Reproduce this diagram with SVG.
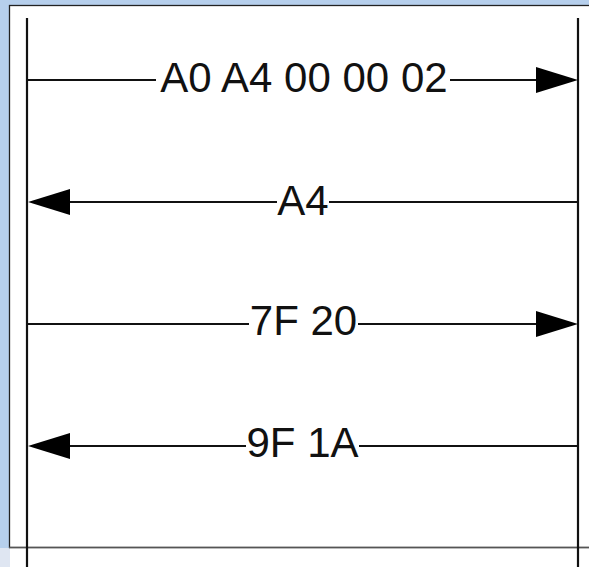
<svg xmlns="http://www.w3.org/2000/svg" width="589" height="567" viewBox="0 0 589 567">
<style>
.life{stroke:#111;stroke-width:2.2;fill:none}
.msg{stroke:#111;stroke-width:2;fill:none}
.head{fill:#000}
.lbl{font-family:"Liberation Sans",Arial,Helvetica,sans-serif;font-size:42px;fill:#111;text-anchor:middle}
</style>
<rect x="0" y="0" width="589" height="567" fill="#b6cfec"/>
<rect x="0" y="548" width="10" height="19" fill="#dfe6f2"/>
<rect x="10" y="548" width="579" height="19" fill="#ffffff"/>
<rect x="9.5" y="5.5" width="590" height="542" fill="#ffffff" stroke="#222" stroke-width="1.3"/>
<line x1="9" y1="547.5" x2="589" y2="547.5" stroke="#555" stroke-width="1.3"/>
<g id="lifeline-left"><line class="life" x1="27" y1="18" x2="27" y2="567"/></g>
<g id="lifeline-right"><line class="life" x1="578" y1="18" x2="578" y2="567"/></g>
<g id="connectors">
<g id="msg1">
<line class="msg" x1="27" y1="80" x2="156" y2="80"/>
<line class="msg" x1="450" y1="80" x2="540" y2="80"/>
<polygon class="head" points="536,67 578,80 536,93"/>
</g>
<g id="msg2">
<line class="msg" x1="67" y1="202" x2="277" y2="202"/>
<line class="msg" x1="329" y1="202" x2="578" y2="202"/>
<polygon class="head" points="70,189 28,202 70,215"/>
</g>
<g id="msg3">
<line class="msg" x1="27" y1="324" x2="249" y2="324"/>
<line class="msg" x1="358" y1="324" x2="540" y2="324"/>
<polygon class="head" points="536,311 578,324 536,337"/>
</g>
<g id="msg4">
<line class="msg" x1="67" y1="446" x2="246" y2="446"/>
<line class="msg" x1="359" y1="446" x2="578" y2="446"/>
<polygon class="head" points="70,433 28,446 70,459"/>
</g>
</g>
<g id="labels">
<text class="lbl" x="304" y="92">A0 A4 00 00 02</text>
<text class="lbl" x="303" y="215">A4</text>
<text class="lbl" x="303.5" y="335">7F 20</text>
<text class="lbl" x="302.5" y="457">9F 1A</text>
</g>
</svg>
